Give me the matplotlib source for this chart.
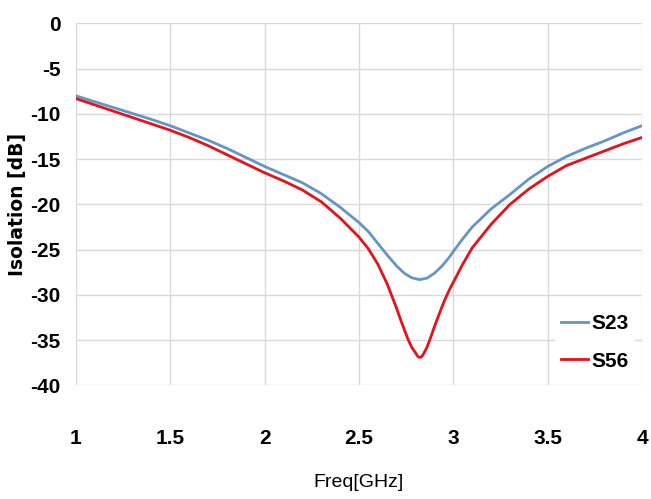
import numpy as np
import matplotlib.pyplot as plt

# readings taken off the reference curves
freq_s23 = [1.0, 1.1, 1.2, 1.3, 1.4, 1.5, 1.6, 1.7, 1.8, 1.9, 2.0, 2.1, 2.2, 2.3,
            2.4, 2.5, 2.55, 2.6, 2.65, 2.7, 2.74, 2.78, 2.82, 2.86, 2.9, 2.94,
            2.98, 3.0, 3.05, 3.1, 3.2, 3.3, 3.4, 3.5, 3.6, 3.7, 3.8, 3.9, 4.0]
s23 = [-8.0, -8.65, -9.3, -9.95, -10.6, -11.3, -12.1, -12.9, -13.8, -14.8,
       -15.8, -16.7, -17.6, -18.8, -20.3, -22.0, -23.0, -24.3, -25.6, -26.8,
       -27.6, -28.1, -28.3, -28.15, -27.6, -26.8, -25.8, -25.2, -23.8, -22.5,
       -20.5, -18.9, -17.2, -15.8, -14.7, -13.8, -13.0, -12.1, -11.3]

freq_s56 = [1.0, 1.1, 1.2, 1.3, 1.4, 1.5, 1.6, 1.7, 1.8, 1.9, 2.0, 2.1, 2.2, 2.3,
            2.4, 2.5, 2.55, 2.6, 2.65, 2.7, 2.72, 2.74, 2.76, 2.78, 2.8, 2.81,
            2.82, 2.83, 2.84, 2.86, 2.88, 2.9, 2.92, 2.94, 2.96, 2.98, 3.0, 3.05,
            3.1, 3.2, 3.3, 3.4, 3.5, 3.6, 3.7, 3.8, 3.9, 4.0]
s56 = [-8.3, -9.0, -9.7, -10.4, -11.1, -11.8, -12.6, -13.5, -14.5, -15.5,
       -16.5, -17.4, -18.4, -19.7, -21.5, -23.6, -24.9, -26.6, -28.8, -31.5,
       -32.7, -33.8, -34.9, -35.8, -36.4, -36.75, -36.9, -36.85, -36.6, -35.8,
       -34.7, -33.5, -32.4, -31.3, -30.3, -29.4, -28.6, -26.6,
       -24.8, -22.2, -20.0, -18.3, -16.9, -15.7, -14.9, -14.1, -13.3, -12.6]

x_ticks = [1, 1.5, 2, 2.5, 3, 3.5, 4]
x_labels = ['1', '1.5', '2', '2.5', '3', '3.5', '4']
y_ticks = [0, -5, -10, -15, -20, -25, -30, -35, -40]

sans = ['Liberation Sans', 'DejaVu Sans']

fig = plt.figure(figsize=(6.51, 4.99), dpi=100)
ax = fig.add_axes([0.1167, 0.2275, 0.8694, 0.7255])

ax.plot(freq_s23, s23, color='#6396C6', linewidth=2.0, label='S23')
ax.plot(freq_s56, s56, color='#E5121B', linewidth=2.0, label='S56')

ax.set_xlim(1, 4)
ax.set_ylim(-40, 0)
ax.set_xticks(x_ticks)
ax.set_xticklabels(x_labels, family=sans, fontweight='bold', fontsize=15)
ax.set_yticks(y_ticks)
ax.set_yticklabels([str(v) for v in y_ticks], family=sans,
                   fontweight='bold', fontsize=15)
ax.tick_params(axis='x', length=0, pad=31)
ax.tick_params(axis='y', length=0, pad=11)

ax.grid(True, color='#D9D9D9', linewidth=1.0)
ax.set_axisbelow(True)
for s in ax.spines.values():
    s.set_visible(False)

ax.set_xlabel('Freq[GHz]', family=sans, fontsize=14, va='center')
ax.xaxis.set_label_coords(0.5, -0.267)
ax.set_ylabel('Isolation [dB]', fontweight='bold', fontsize=13.5, va='center')
ax.yaxis.set_label_coords(-0.104, 0.5)

leg = ax.legend(loc='center', bbox_to_anchor=(0.917, 0.119),
                prop={'family': sans, 'weight': 'bold', 'size': 15},
                frameon=True, facecolor='white', edgecolor='none',
                framealpha=1.0, fancybox=False, handlelength=1.3,
                handletextpad=0.15, labelspacing=0.9, borderpad=0.3)

fig.savefig('out.png', dpi=100)
